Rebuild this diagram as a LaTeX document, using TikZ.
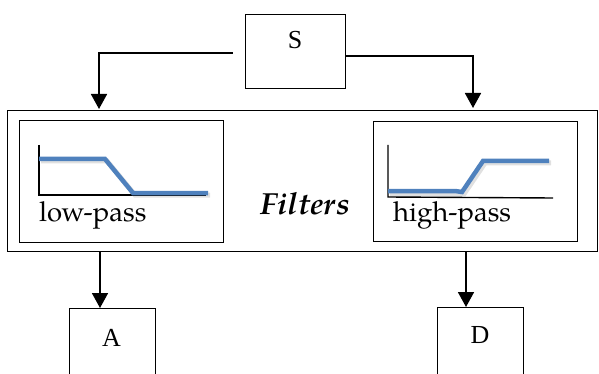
\documentclass[tikz,border=0pt]{standalone}
\usepackage{fontspec}
\setmainfont{TeX Gyre Pagella}
\newfontfamily\lettersfont{Liberation Serif}
\usetikzlibrary{arrows.meta}
\definecolor{respblue}{RGB}{79,129,189}

\begin{document}
\begin{tikzpicture}[x=1pt,y=-1pt,
  frame/.style={draw, line width=1pt, inner sep=0pt},
  link/.style={line width=1.7pt, -{Triangle[length=15pt,width=16pt]}},
  axis/.style={line width=1.4pt},
  resp/.style={line width=4.5pt, color=respblue, line join=miter},
  shade/.style={line width=5pt, color=black!35, opacity=0.35},
  letter/.style={font=\lettersfont\fontsize{26}{28}\selectfont},
  caption/.style={font=\fontsize{27.5}{30}\selectfont, inner sep=0pt}]
\useasboundingbox (0,0) rectangle (599,374);

% source block
\node[frame, minimum width=100pt, minimum height=74pt] (S) at (295,52) {};
\node[letter] (Slabel) at (295,40.5) {S};

% filter bank
\node[frame, minimum width=590pt, minimum height=140pt] (bank) at (302,181) {};
\node[frame, minimum width=204pt, minimum height=121pt] (lp) at (121,181.5) {};
\node[frame, minimum width=204pt, minimum height=119pt] (hp) at (475,181.5) {};
\node[font=\bfseries\itshape\fontsize{30.5}{32}\selectfont, anchor=base, inner sep=0pt] (title) at (305,214) {Filters};

% low-pass response
\draw[shade] (41,161) -- (107,161) -- (135,195) -- (210,195);
\draw[axis] (39,145) -- (39,195) -- (206,195);
\draw[resp] (39,159) -- (105,159) -- (133,193) -- (208,193);
\node[caption, anchor=base west] (lpt) at (39,221) {low-pass};

% high-pass response
\draw[shade] (390,194) -- (464,194) -- (485,163) -- (551,163);
\draw[axis] (388,145) -- (388,197) -- (553,198);
\draw[resp] (388,191) -- (455,191) -- (462,192) -- (483,161) -- (549,161);
\node[caption, anchor=base west] (hpt) at (393,221) {high-pass};

% output blocks
\node[frame, minimum width=86pt, minimum height=100pt, anchor=north] (A) at (112,308) {};
\node[letter] (Alabel) at (111.5,337.5) {A};
\node[frame, minimum width=86pt, minimum height=100pt, anchor=north] (D) at (480,307) {};
\node[letter] (Dlabel) at (480,335) {D};

% connectors
\coordinate (inL) at (99,109);
\coordinate (inR) at (473,108);
\coordinate (outL) at (100,251);
\coordinate (outR) at (466,251);
\draw[link] ([xshift=-12pt,yshift=-1pt]S.west) -| (inL);
\draw[link] ([yshift=-4pt]S.east) -| (inR);
\draw[link] (outL) -- (outL |- A.north);
\draw[link] (outR) -- (outR |- D.north);
\end{tikzpicture}
\end{document}
